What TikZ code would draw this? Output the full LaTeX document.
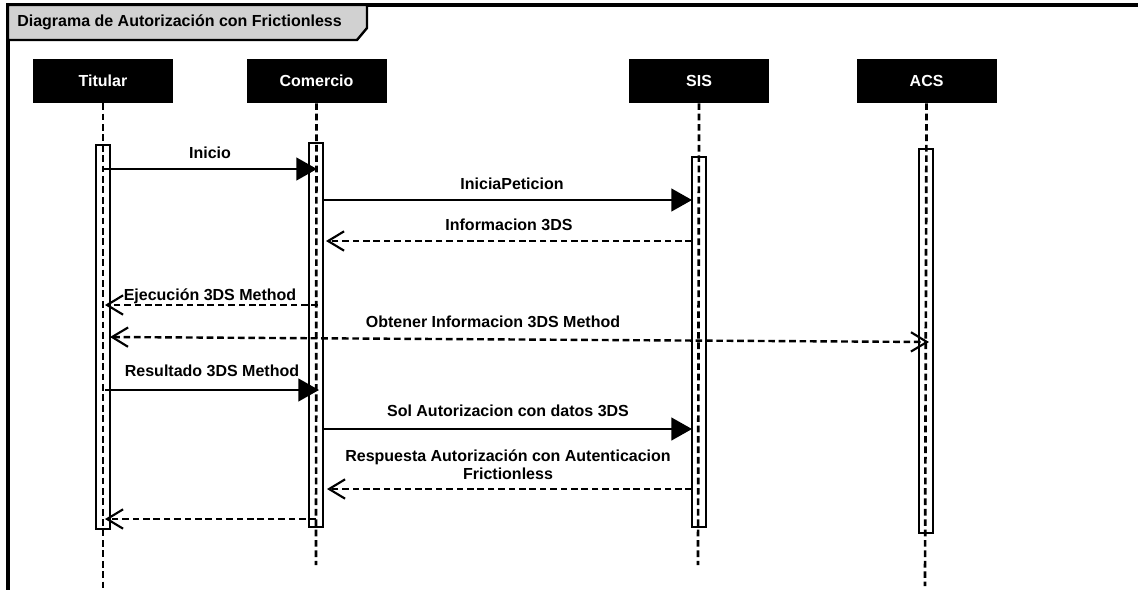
\documentclass[tikz,border=0pt]{standalone}
\usepackage{fontspec}
\setmainfont{Liberation Sans}
\usetikzlibrary{arrows.meta, positioning}
\tikzstyle{actor} = [rectangle, fill=black, text=white, minimum width=105pt, minimum height=33pt, inner sep=0pt, font=\bfseries\fontsize{12}{14}\selectfont]
\tikzstyle{bar} = [rectangle, draw=black, fill=white, line width=1.8pt, minimum width=10.5pt, inner sep=0pt]
\tikzstyle{life} = [line width=2pt, dash pattern=on 5pt off 2.8pt]
\tikzstyle{call} = [line width=1.8pt, -{Triangle[length=15.5pt, width=17pt]}]
\tikzstyle{reply} = [line width=1.8pt, dash pattern=on 5pt off 2.8pt, -{Straight Barb[length=12pt, width=14.5pt, line width=1.6pt]}]
\tikzstyle{both} = [line width=1.8pt, dash pattern=on 5pt off 2.8pt, {Straight Barb[length=12pt, width=14.5pt, line width=1.6pt]}-{Straight Barb[length=12pt, width=14.5pt, line width=1.6pt]}]
\tikzstyle{msgtext} = [font=\bfseries\fontsize{12}{13.5}\selectfont, inner sep=0pt, align=center]

\begin{document}
\begin{tikzpicture}[x=0.75pt, y=-0.75pt]
        \useasboundingbox (0,0) rectangle (1138,590);

        % Frame and title tab
        \draw [line width=2.4pt] (1138,5) -- (8,5) -- (8,590);
        \draw [line width=1.8pt, fill=black!18] (8,5) -- (367,5) -- (367,28) -- (357,40) -- (8,40) -- cycle;
        \node (title) [anchor=west, inner sep=0pt, font=\bfseries\fontsize{12}{14}\selectfont] at (17,22) {Diagrama de Autorización con Frictionless};

        % Actors
        \node (titular) [actor] at (103,81) {Titular};
        \node (comercio) [actor, right=54.75pt of titular] {Comercio};
        \node (sis) [actor, right=181.5pt of comercio] {SIS};
        \node (acs) [actor, right=65.25pt of sis] {ACS};

        % Activation bars
        \node (barT) [bar, minimum height=288pt] at (103,337) {};
        \node (barC) [bar, minimum height=288pt] at (316,335) {};
        \node (barS) [bar, minimum height=277.5pt] at (699,342) {};
        \node (barA) [bar, minimum height=288pt] at (926,341) {};

        % Lifelines
        \coordinate (endT) at (103,592);
        \coordinate (endC) at (316,565);
        \coordinate (endS) at (698,565);
        \coordinate (endA) at (925,586);
        \draw [life] (titular) -- (endT);
        \draw [life] (comercio) -- (endC);
        \draw [life] (sis) -- (endS);
        \draw [life] (acs) -- (endA);

        % Message end points
        \coordinate (m1a) at (104,169);  \coordinate (m1b) at (317,169);
        \coordinate (m2a) at (324,200);  \coordinate (m2b) at (692,200);
        \coordinate (m3a) at (692,241);  \coordinate (m3b) at (326,241);
        \coordinate (m4a) at (318,305);  \coordinate (m4b) at (105,305);
        \coordinate (m5a) at (110,337);  \coordinate (m5b) at (929,342);
        \coordinate (m6a) at (105,390);  \coordinate (m6b) at (319,390);
        \coordinate (m7a) at (324,429);  \coordinate (m7b) at (692,429);
        \coordinate (m8a) at (692,489);  \coordinate (m8b) at (327,489);
        \coordinate (m9a) at (316,519);  \coordinate (m9b) at (105,519);

        % Messages
        \draw [call] (m1a) -- (m1b);
        \draw [call] (m2a) -- (m2b);
        \draw [reply] (m3a) -- (m3b);
        \draw [reply] (m4a) -- (m4b);
        \draw [both] (m5a) -- (m5b);
        \draw [call] (m6a) -- (m6b);
        \draw [call] (m7a) -- (m7b);
        \draw [reply] (m8a) -- (m8b);
        \draw [reply] (m9a) -- (m9b);

        % Labels
        \node (l1) [msgtext] at (210,153) {Inicio};
        \node (l2) [msgtext] at (512,184) {IniciaPeticion};
        \node (l3) [msgtext] at (509,225) {Informacion 3DS};
        \node (l4) [msgtext] at (210,296) {Ejecución 3DS Method};
        \node (l5) [msgtext] at (493,322) {Obtener Informacion 3DS Method};
        \node (l6) [msgtext] at (212,371) {Resultado 3DS Method};
        \node (l7) [msgtext] at (508,411) {Sol Autorizacion con datos 3DS};
        \node (l8) [msgtext] at (508,465) {Respuesta Autorización con Autenticacion\\Frictionless};
    \end{tikzpicture}
\end{document}
